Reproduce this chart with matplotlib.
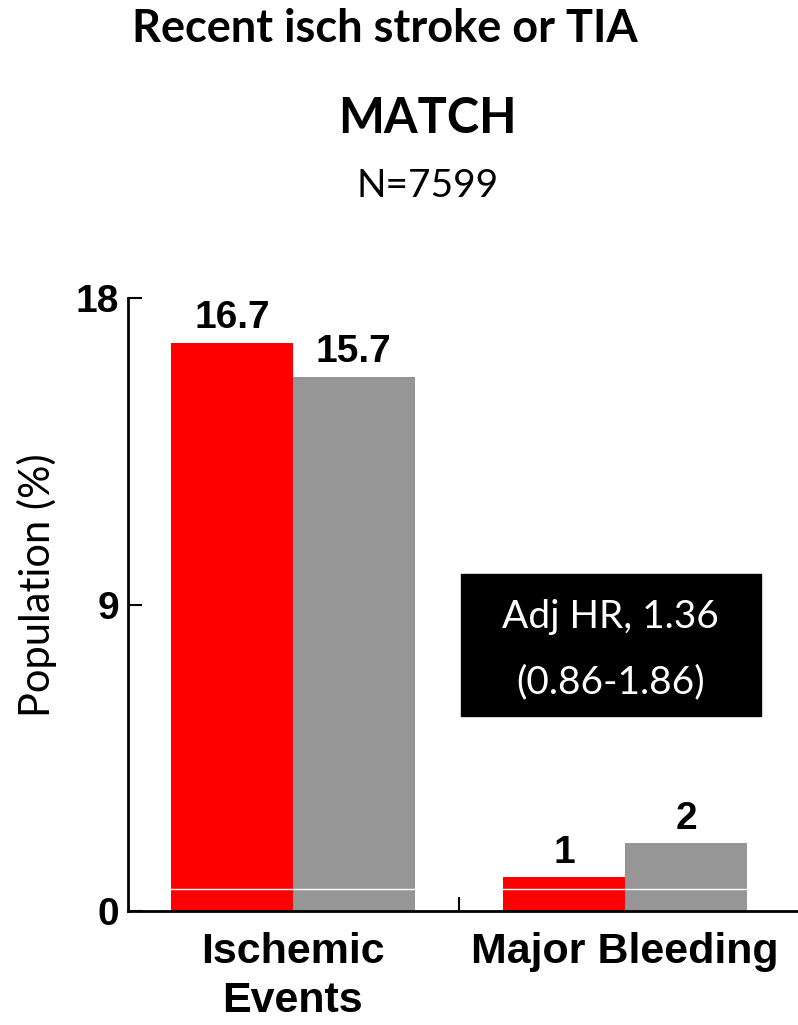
import numpy as np
import matplotlib.pyplot as plt
from matplotlib.patches import Rectangle

# outcome rates (%) for each arm
categories = ["Ischemic\nEvents", "Major Bleeding"]
arm_a = [16.7, 1.0]
arm_b = [15.7, 2.0]
arm_a_labels = ["16.7", "1"]
arm_b_labels = ["15.7", "2"]
yticks = [0, 9, 18]

fig = plt.figure(figsize=(7.98, 10.25), dpi=100)
ax = fig.add_axes([0.160, 0.111, 0.84, 0.598])

x = np.arange(len(categories))
w = 0.367
ax.bar(x - w / 2, arm_a, w, color="#ff0000", linewidth=0)
ax.bar(x + w / 2, arm_b, w, color="#969696", linewidth=0)
ax.axhline(0.65, color="white", linewidth=1)

bold = dict(family="Liberation Sans", weight="bold")
for xi, v, s in zip(x - w / 2, arm_a, arm_a_labels):
    ax.text(xi, v + 0.18, s, ha="center", va="bottom", fontsize=28, **bold)
for xi, v, s in zip(x + w / 2, arm_b, arm_b_labels):
    ax.text(xi, v + 0.18, s, ha="center", va="bottom", fontsize=28, **bold)

ax.set_xlim(-0.497, 1.52)
ax.set_ylim(0, 18)
ax.set_yticks(yticks)
ax.set_yticklabels([str(t) for t in yticks], fontsize=28, **bold)
ax.tick_params(axis="y", direction="in", length=10, width=1.5, pad=6)
ax.set_xticks([0.5])
ax.set_xticklabels([""])
ax.tick_params(axis="x", direction="in", length=10, width=1.5)
for i, c in enumerate(categories):
    ax.text(i, -0.6, c, ha="center", va="top", fontsize=31,
            linespacing=1.3, **bold)

for s in ["top", "right"]:
    ax.spines[s].set_visible(False)
for s in ["left", "bottom"]:
    ax.spines[s].set_linewidth(2)

ax.set_ylabel("Population (%)", family="Lato", fontsize=30, va="center")
ax.yaxis.set_label_coords(-0.136, 0.532)

# hazard ratio box
ax.add_patch(Rectangle((0.5053, 5.73), 0.904, 4.17, color="black",
                       clip_on=False, zorder=3))
ax.text(0.957, 8.63, "Adj HR, 1.36", color="white", family="Lato",
        fontsize=28, ha="center", va="center", zorder=4)
ax.text(0.957, 6.72, "(0.86-1.86)", color="white", family="Lato",
        fontsize=28, ha="center", va="center", zorder=4)

fig.text(0.482, 0.972, "Recent isch stroke or TIA", family="Lato",
         weight="bold", fontsize=32.5, ha="center", va="center")
fig.text(0.536, 0.884, "MATCH", family="Lato", weight="bold",
         fontsize=35, ha="center", va="center")
fig.text(0.536, 0.819, "N=7599", family="Lato", fontsize=28,
         ha="center", va="center")

fig.savefig("out.png", dpi=100)
